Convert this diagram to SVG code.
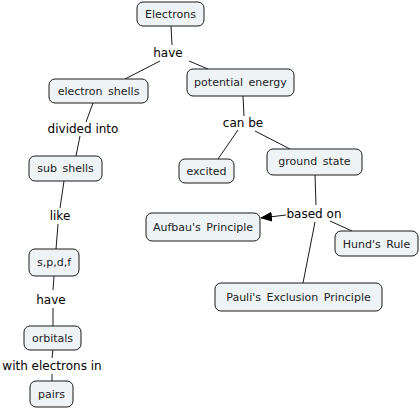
<svg xmlns="http://www.w3.org/2000/svg" width="420" height="409" viewBox="0 0 420 409">
<style>
.n rect{fill:#eef4f6;stroke:#1a1a1a;stroke-width:1;}
.n text{font-family:"DejaVu Sans",Verdana,sans-serif;font-size:11px;fill:#222;text-anchor:middle;word-spacing:2px;}
.c line{stroke:#1a1a1a;stroke-width:1;}
.c text{font-family:"DejaVu Sans",Verdana,sans-serif;font-size:12px;fill:#000;text-anchor:middle;}
</style>
<defs>
<marker id="ah" markerWidth="12" markerHeight="10" refX="11" refY="5" orient="auto" markerUnits="userSpaceOnUse">
<path d="M0,0 L12,5 L0,10 Z" fill="#000"/>
</marker>
</defs>
<rect width="420" height="409" fill="#fff"/>
<g id="connectors" class="c">
<line x1="171" y1="26" x2="172" y2="45"/>
<line x1="160" y1="61" x2="125" y2="79"/>
<line x1="189" y1="61" x2="208" y2="69"/>
<line x1="93" y1="103" x2="86" y2="122"/>
<line x1="80" y1="136" x2="76" y2="156"/>
<line x1="64" y1="181" x2="60" y2="208"/>
<line x1="58" y1="224" x2="56" y2="249"/>
<line x1="54" y1="276" x2="53" y2="290"/>
<line x1="53" y1="308" x2="53" y2="326"/>
<line x1="53" y1="350" x2="52" y2="358"/>
<line x1="52" y1="374" x2="52" y2="381"/>
<line x1="243" y1="96" x2="244" y2="116"/>
<line x1="238" y1="130" x2="218" y2="159"/>
<line x1="255" y1="131" x2="290" y2="149"/>
<line x1="315" y1="175" x2="316" y2="205"/>
<line x1="286" y1="215" x2="261" y2="218" marker-end="url(#ah)"/>
<line x1="330" y1="221" x2="352" y2="231"/>
<line x1="315" y1="222" x2="303" y2="283"/>
<text x="168" y="57">have</text>
<text x="83" y="133">divided into</text>
<text x="60" y="220">like</text>
<text x="51" y="304">have</text>
<text x="52" y="370">with electrons in</text>
<text x="243" y="127">can be</text>
<text x="314" y="218">based on</text>
</g>
<g id="electrons" class="n"><rect x="137" y="2" width="67" height="24" rx="6"/><text x="170.5" y="18">Electrons</text></g>
<g id="electron-shells" class="n"><rect x="49" y="79" width="99" height="24" rx="6"/><text x="98.5" y="95">electron shells</text></g>
<g id="potential-energy" class="n"><rect x="187" y="69" width="107" height="27" rx="6"/><text x="240.5" y="86">potential energy</text></g>
<g id="sub-shells" class="n"><rect x="29" y="156" width="73" height="25" rx="6"/><text x="65.5" y="172">sub shells</text></g>
<g id="spdf" class="n"><rect x="29" y="249" width="50" height="27" rx="6"/><text x="54" y="266">s,p,d,f</text></g>
<g id="orbitals" class="n"><rect x="24" y="326" width="57" height="24" rx="6"/><text x="52.5" y="342">orbitals</text></g>
<g id="pairs" class="n"><rect x="30" y="381" width="43" height="26" rx="6"/><text x="51.5" y="398">pairs</text></g>
<g id="excited" class="n"><rect x="179" y="159" width="55" height="24" rx="6"/><text x="206.5" y="175">excited</text></g>
<g id="ground-state" class="n"><rect x="267" y="149" width="95" height="26" rx="6"/><text x="314.5" y="165">ground state</text></g>
<g id="aufbau" class="n"><rect x="146" y="213" width="114" height="28" rx="6"/><text x="203" y="231">Aufbau's Principle</text></g>
<g id="hund" class="n"><rect x="335" y="231" width="83" height="25" rx="6"/><text x="376.5" y="248">Hund's Rule</text></g>
<g id="pauli" class="n"><rect x="215" y="283" width="167" height="28" rx="6"/><text x="298.5" y="301">Pauli's Exclusion Principle</text></g>
</svg>
